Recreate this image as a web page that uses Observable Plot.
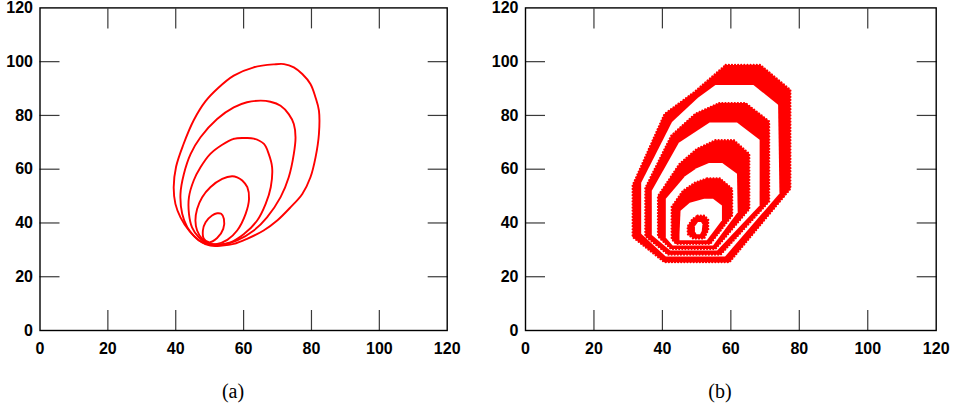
<!DOCTYPE html>
<html><head><meta charset="utf-8">
<script src="https://cdn.jsdelivr.net/npm/d3@7"></script>
<script src="https://cdn.jsdelivr.net/npm/@observablehq/plot@0.6"></script>
<style>
body{margin:0;background:#fff;}
#wrap{position:relative;width:960px;height:407px;overflow:hidden;}
.panel{position:absolute;top:0;}
.cap{position:absolute;top:379px;font-family:"Liberation Serif","DejaVu Serif",serif;font-size:20px;line-height:24px;transform:translateX(-50%);color:#000;}
</style></head><body><div id="wrap"></div>
<script>
// Axis values
const tickLabels = [0, 20, 40, 60, 80, 100, 120];
const tickMarks = [20, 40, 60, 80, 100];

// Panel (a): closed contour curves [x, y]
const curveA1 = [[52.2,43.6],[50.7,42.8],[48.8,40.3],[48.0,37.2],[48.3,34.1],[49.8,32.8],[52.2,34.4],[54.0,37.8],[54.2,41.5],[53.4,43.4]];
const curveA2 = [[56.6,57.4],[53.7,56.4],[50.2,53.3],[47.8,49.6],[46.3,45.2],[45.8,40.9],[46.3,37.2],[47.8,34.1],[49.6,32.4],[52.2,32.2],[55.2,33.7],[58.1,37.2],[60.6,43.4],[61.6,48.9],[61.1,53.3],[59.6,55.8],[58.1,57.0]];
const curveA3 = [[60.1,71.6],[57.1,71.3],[53.7,69.1],[50.2,65.7],[47.3,60.7],[45.3,55.8],[43.9,49.6],[43.9,43.4],[44.8,38.4],[46.8,34.7],[49.3,32.4],[52.2,32.0],[56.1,32.8],[60.1,35.9],[64.0,40.9],[66.5,47.1],[68.0,53.3],[68.4,60.7],[67.4,65.7],[66.0,69.4],[63.0,71.4]];
const curveA4 = [[65.0,85.5],[61.0,84.9],[57.1,83.0],[52.2,78.7],[47.3,71.9],[44.4,65.7],[42.4,58.2],[41.4,50.8],[41.9,43.4],[43.4,38.4],[45.3,35.3],[47.8,32.8],[50.2,31.9],[54.2,32.0],[58.1,33.5],[63.0,37.2],[66.9,42.1],[70.9,49.6],[73.3,57.0],[74.8,65.7],[75.3,71.9],[74.8,76.8],[73.3,80.5],[70.9,83.6],[67.9,85.1]];
const curveA5 = [[69.0,99.0],[63.0,97.9],[57.1,94.8],[52.5,90.2],[48.8,85.3],[45.3,78.2],[42.2,69.0],[40.1,60.9],[39.4,53.3],[39.9,47.1],[41.4,42.1],[43.9,37.2],[46.8,33.5],[50.2,31.6],[53.7,31.6],[57.1,32.2],[61.0,34.1],[65.9,37.2],[69.9,40.9],[73.8,45.8],[77.3,50.8],[79.7,57.0],[81.2,64.4],[82.2,73.1],[82.2,81.8],[81.2,86.7],[79.7,91.7],[77.3,95.4],[74.8,97.9],[71.9,99.1]];

// Panel (b): ring bands, each an outer and an inner polygon [x, y]
const ring5Outer = [[58.5,98.8],[68.6,98.8],[77.4,89.5],[77.4,52.7],[59.6,25.4],[40.6,25.4],[31.3,34.8],[31.3,54.0],[40.6,80.5],[49.2,88.6]];
const ring5Inner = [[55.5,91.3],[66.6,91.3],[73.8,84.0],[74.2,51.0],[58.3,27.5],[41.0,27.5],[33.8,36.0],[33.8,55.0],[42.8,77.6],[50.4,86.6]];
const ring4Outer = [[56.6,84.6],[64.3,84.6],[71.2,77.8],[71.2,48.0],[57.0,28.2],[41.7,28.2],[35.0,35.1],[35.0,53.0],[42.6,72.5],[49.6,80.6]];
const ring4Inner = [[53.8,77.4],[61.8,77.4],[68.4,71.0],[68.4,46.5],[56.0,29.8],[42.3,29.8],[36.9,35.5],[36.9,52.0],[44.8,69.8]];
const ring3Outer = [[55.5,70.8],[60.9,70.8],[65.4,65.7],[65.4,45.2],[55.5,30.3],[42.5,30.3],[38.7,35.0],[38.7,50.0],[45.0,62.0],[50.0,67.5]];
const ring3Inner = [[53.6,62.3],[57.5,62.3],[61.8,58.3],[62.0,44.0],[54.8,31.6],[43.0,31.6],[41.0,34.5],[41.0,49.0],[46.6,57.4],[50.0,60.4]];
const ring2Outer = [[53.1,56.6],[56.8,56.6],[60.4,52.7],[60.4,42.8],[54.0,32.2],[44.0,32.2],[42.7,34.0],[42.7,46.0],[46.0,52.0],[49.5,55.0]];
const ring2Inner = [[52.2,49.0],[54.8,49.0],[57.4,46.5],[57.4,41.0],[53.0,33.6],[45.0,33.6],[45.0,36.0],[45.3,44.5],[48.0,47.5]];
const ring1Outer = [[50.3,42.7],[52.3,42.7],[53.4,41.2],[53.4,37.5],[52.2,34.2],[49.0,34.2],[47.4,35.8],[47.4,38.8],[48.8,41.5]];
const ring1Inner = [[50.4,40.4],[51.3,40.4],[51.7,39.5],[51.5,37.0],[51.0,35.8],[50.0,35.8],[49.5,36.8],[49.5,38.8]];

const RED = "#ff0000";
const TICK = "#3a3a3a";

function frameMarks() {
  return [
    Plot.axisX(tickMarks, {anchor: "bottom", tickSize: -20, fill: "none", stroke: TICK, strokeWidth: 1.2, label: null}),
    Plot.axisX(tickMarks, {anchor: "top", tickSize: -20, fill: "none", stroke: TICK, strokeWidth: 1.2, label: null}),
    Plot.axisY(tickMarks, {anchor: "left", tickSize: -20, fill: "none", stroke: TICK, strokeWidth: 1.2, label: null}),
    Plot.axisY(tickMarks, {anchor: "right", tickSize: -20, fill: "none", stroke: TICK, strokeWidth: 1.2, label: null}),
    Plot.axisX(tickLabels, {anchor: "bottom", tickSize: 0, tickPadding: 12, label: null}),
    Plot.axisY(tickLabels, {anchor: "left", tickSize: 0, tickPadding: 7, label: null}),
    Plot.frame({stroke: "#000", strokeWidth: 1.4})
  ];
}

function makePanel(dataMarks, ml, mr) {
  return Plot.plot({
    width: 480, height: 370,
    marginLeft: ml, marginRight: mr, marginTop: 7.4, marginBottom: 40,
    x: {domain: [0, 120]},
    y: {domain: [0, 120]},
    style: {fontFamily: "'Liberation Sans', Arial, sans-serif", fontSize: "16px", fontWeight: "bold", color: "#000", background: "transparent", overflow: "visible"},
    marks: [...dataMarks, ...frameMarks()]
  });
}

const curvesA = [curveA1, curveA2, curveA3, curveA4, curveA5];
const marksA = curvesA.map(c => Plot.line(c, {curve: "catmull-rom-closed", stroke: RED, strokeWidth: 1.9}));

const polysB = [
  [ring5Outer, RED], [ring5Inner, "white"],
  [ring4Outer, RED], [ring4Inner, "white"],
  [ring3Outer, RED], [ring3Inner, "white"],
  [ring2Outer, RED], [ring2Inner, "white"],
  [ring1Outer, RED], [ring1Inner, "white"]
];
const marksB = polysB.map(([p, col]) => col === RED
  ? Plot.line(p, {curve: "linear-closed", fill: RED, stroke: RED, strokeWidth: 2.2, strokeDasharray: "0.1 3", strokeLinecap: "round"})
  : Plot.line(p, {curve: "linear-closed", fill: "white", stroke: "none"}));

const wrap = document.getElementById("wrap");
const pa = makePanel(marksA, 39.5, 33.3);
pa.classList.add("panel"); pa.style.left = "0px";
const pb = makePanel(marksB, 45, 24.3);
pb.classList.add("panel"); pb.style.left = "480px";
wrap.appendChild(pa); wrap.appendChild(pb);

for (const [t, x] of [["(a)", 233], ["(b)", 720]]) {
  const d = document.createElement("div");
  d.className = "cap"; d.textContent = t; d.style.left = x + "px";
  wrap.appendChild(d);
}
</script></body></html>
